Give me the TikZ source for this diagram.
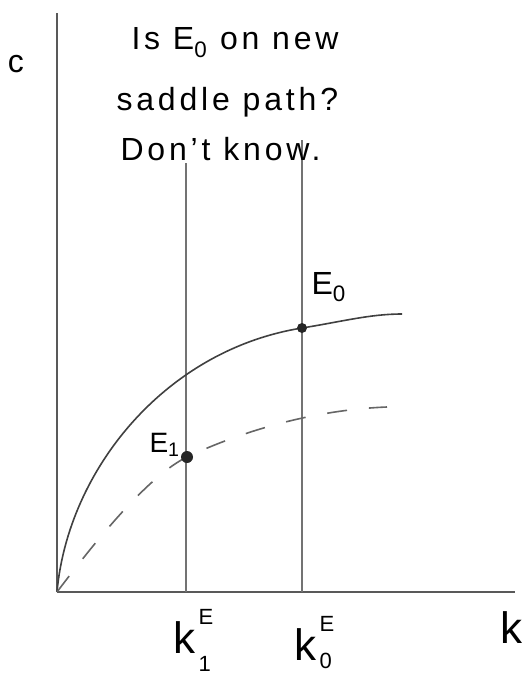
\documentclass[tikz,border=0pt]{standalone}
\usepackage{fontspec}
\setmainfont{Liberation Sans}
% k with a stacked E and index, as written under the axis
\newcommand{\kstate}[2]{k\hspace{3pt}\rlap{\fontsize{22}{24}\selectfont\raisebox{29pt}{E}}\rlap{\fontsize{22}{24}\selectfont\raisebox{#2}{#1}}}

\begin{document}
\begin{tikzpicture}[x=1pt,y=-1pt,
    axis/.style={line width=2pt,black!65},
    guide/.style={line width=1.8pt,black!55},
    curve/.style={line width=1.6pt,black!75},
    note/.style={anchor=base west,font=\fontsize{32}{38}\selectfont\addfontfeatures{LetterSpace=12}},
    lbl/.style={anchor=base west,font=\fontsize{44}{50}\selectfont}]
  \useasboundingbox (0,0) rectangle (524,677);
  \coordinate (O) at (57,592);
  \coordinate (ctop) at (57,13);
  \coordinate (kend) at (515,592);
  \coordinate (k1bot) at (186,592);
  \coordinate (k1top) at (186,163);
  \coordinate (k0bot) at (302,592);
  \coordinate (k0top) at (302,140);
  \coordinate (E0) at (302,328);
  \coordinate (E1) at (187,457);
  \coordinate (oldend) at (402,314);
  \coordinate (newend) at (387,407);
  % axes and the two steady states
  \draw[axis] (O) -- (ctop);
  \draw[axis] (O) -- (kend);
  \draw[guide] (k1bot) -- (k1top);
  \draw[guide] (k0bot) -- (k0top);
  % old and new paths
  \draw[curve] (O) .. controls (68,470) and (165,350) .. (E0) .. controls (342,321.6) and (370,314) .. (oldend);
  \draw[curve,black!60,dash pattern=on 20pt off 22pt] (O) .. controls (100,535) and (150,475) .. (E1) .. controls (238,433) and (310,410) .. (newend);
  \fill[black!85] (E0) circle (5pt);
  \fill[black!85] (E1) circle (6pt);
  % labels
  \node[note] (line1) at (128,50) {Is E\textsubscript{0} on new};
  \node[note] (line2) at (113,110) {saddle path?};
  \node[note] (line3) at (117,160) {Don't know.};
  \node[anchor=base,font=\fontsize{32}{38}\selectfont] (clbl) at (16,72) {c};
  \node[anchor=base west,font=\fontsize{32}{38}\selectfont] (E0lbl) at (308,294) {E\textsubscript{0}};
  \node[anchor=base west,font=\fontsize{28}{34}\selectfont] (E1lbl) at (146,452) {E\textsubscript{1}};
  \node[lbl] (k1lbl) at (170,653) {\kstate{1}{-18pt}};
  \node[lbl] (k0lbl) at (291,660) {\kstate{0}{-8pt}};
  \node[lbl] (klbl) at (497,643) {k};
\end{tikzpicture}
\end{document}
